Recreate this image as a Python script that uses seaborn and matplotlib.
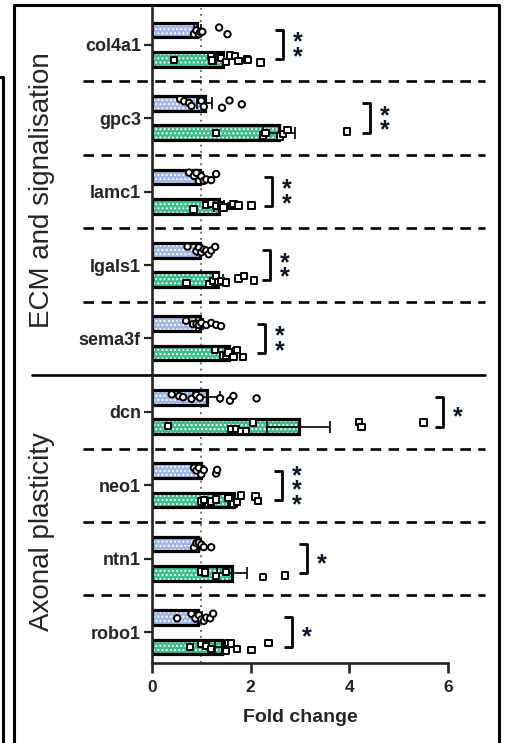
import numpy as np
import pandas as pd
import matplotlib.pyplot as plt
from matplotlib.lines import Line2D
import seaborn as sns

# --- data ---
genes = ["col4a1", "gpc3", "lamc1", "lgals1", "sema3f", "dcn", "neo1", "ntn1", "robo1"]
groups = ["ctrl", "treat"]

ctrl_mean = [0.92, 1.07, 0.97, 0.97, 0.97, 1.11, 1.00, 0.94, 0.94]
ctrl_sem = [0.07, 0.15, 0.06, 0.05, 0.07, 0.27, 0.06, 0.05, 0.07]
treat_mean = [1.43, 2.57, 1.35, 1.33, 1.56, 2.97, 1.67, 1.62, 1.41]
treat_sem = [0.14, 0.32, 0.10, 0.10, 0.08, 0.64, 0.12, 0.30, 0.13]

ctrl_points = [
    [0.85, 0.90, 0.95, 0.98, 1.02, 1.36, 1.53],
    [0.57, 0.65, 0.75, 0.80, 1.00, 1.05, 1.42, 1.57, 1.82],
    [0.75, 0.85, 0.90, 0.95, 1.00, 1.05, 1.10, 1.20, 1.30],
    [0.72, 0.90, 0.95, 1.00, 1.05, 1.10, 1.15, 1.20, 1.28],
    [0.69, 0.83, 0.90, 0.95, 1.00, 1.10, 1.20, 1.30, 1.40],
    [0.40, 0.55, 0.63, 0.80, 0.90, 0.97, 1.38, 1.58, 1.65, 2.12],
    [0.85, 0.90, 0.95, 1.00, 1.05, 1.30, 1.32],
    [0.85, 0.90, 0.95, 1.00, 1.05, 1.20],
    [0.51, 0.80, 0.88, 0.95, 1.00, 1.05, 1.10, 1.18, 1.24],
]
treat_points = [
    [0.45, 1.20, 1.22, 1.40, 1.50, 1.58, 1.68, 1.75, 1.92, 1.95, 2.20],
    [1.30, 2.25, 2.30, 2.60, 2.65, 2.75, 3.95],
    [0.84, 1.10, 1.20, 1.30, 1.40, 1.45, 1.60, 1.65, 1.75, 2.02],
    [0.70, 1.15, 1.25, 1.30, 1.35, 1.40, 1.50, 1.75, 1.87, 2.07],
    [1.28, 1.45, 1.50, 1.55, 1.65, 1.72, 1.85],
    [0.33, 1.60, 1.70, 1.80, 1.90, 2.05, 4.20, 4.25, 5.50],
    [1.00, 1.05, 1.20, 1.30, 1.55, 1.65, 1.72, 1.80, 2.10, 2.15],
    [1.00, 1.07, 1.30, 1.50, 2.25, 2.70],
    [0.77, 1.00, 1.10, 1.20, 1.50, 1.55, 1.60, 1.72, 2.02, 2.36],
]

bracket_x = [2.66, 4.42, 2.43, 2.39, 2.29, 5.90, 2.64, 3.14, 2.84]
stars = ["**", "**", "**", "**", "**", "*", "***", "*", "*"]

PALETTE = {"ctrl": "#a3b7e4", "treat": "#3fbd8e"}

# --- tables ---
means = pd.DataFrame({
    "gene": genes * 2,
    "group": ["ctrl"] * len(genes) + ["treat"] * len(genes),
    "fold": ctrl_mean + treat_mean,
    "sem": ctrl_sem + treat_sem,
})
rows = []
for g, pts in zip(genes, ctrl_points):
    rows += [("ctrl", g, v) for v in pts]
for g, pts in zip(genes, treat_points):
    rows += [("treat", g, v) for v in pts]
points = pd.DataFrame(rows, columns=["group", "gene", "fold"])

sns.set_style("ticks")
plt.rcParams['font.family'] = ['Liberation Sans', 'DejaVu Sans']
plt.rcParams['hatch.linewidth'] = 0.9

fig = plt.figure(figsize=(5.08, 7.43), dpi=100)
W, H = 508, 743
ax = fig.add_axes([152 / W, 1 - 663 / H, 296 / W, 655 / H])

ax.axvline(1, ls=(0, (1, 2.2)), color="0.45", lw=1.4, zorder=0)

# filled bars with white dot hatch
sns.barplot(data=means, y="gene", x="fold", hue="group", order=genes, hue_order=groups,
            palette=PALETTE, saturation=1, orient="h", width=0.8, gap=0.5,
            errorbar=None, legend=False, ax=ax)
n0 = len(ax.patches)
for p in ax.patches:
    p.set_hatch("....")
    p.set_edgecolor("white")
    p.set_linewidth(0)
    p.set_zorder(1)

# outlines
sns.barplot(data=means, y="gene", x="fold", hue="group", order=genes, hue_order=groups,
            palette=PALETTE, saturation=1, orient="h", width=0.8, gap=0.5,
            errorbar=None, legend=False, ax=ax)
sem_lookup = {(r.gene, r.group): r.sem for r in means.itertuples()}
for p in ax.patches[n0:]:
    p.set_facecolor("none")
    p.set_edgecolor("black")
    p.set_linewidth(2.3)
    p.set_zorder(2)
    yc = p.get_y() + p.get_height() / 2
    gi = int(round(yc))
    grp = "ctrl" if yc < gi else "treat"
    ax.errorbar(p.get_width(), yc, xerr=sem_lookup[(genes[gi], grp)], color="black",
                lw=1.2, capsize=4, capthick=1.2, zorder=4)

# individual points
np.random.seed(4)
for grp, mk in [("ctrl", "o"), ("treat", "s")]:
    sns.stripplot(data=points[points.group == grp], y="gene", x="fold", hue="group",
                  order=genes, hue_order=groups, dodge=True, jitter=0.12, orient="h",
                  palette={"ctrl": "white", "treat": "white"}, marker=mk, size=4.6,
                  edgecolor="black", linewidth=1.4, legend=False, ax=ax, zorder=5)

# significance brackets
for i, (bx, s) in enumerate(zip(bracket_x, stars)):
    ax.plot([bx - 0.16, bx, bx, bx - 0.16], [i - 0.2, i - 0.2, i + 0.2, i + 0.2],
            color="black", lw=2.0, clip_on=False, solid_capstyle="butt")
    ax.text(bx + 0.3, i + 0.07, "\n".join(s), ha="center", va="center",
            fontsize=18, fontweight="bold", linespacing=0.5, color="#101828")

# separators
ytr = ax.get_yaxis_transform()
for i in range(len(genes) - 1):
    if i == 4:
        ax.plot([-0.405, 1.125], [i + 0.5, i + 0.5], transform=ytr, color="black",
                lw=1.9, clip_on=False)
    else:
        ax.plot([-0.233, 1.125], [i + 0.5, i + 0.5], transform=ytr, color="black",
                lw=1.9, ls=(0, (4, 2.8)), clip_on=False)

ax.set_xlim(0, 6)
ax.set_ylim(8.42, -0.5)
ax.set_xticks([0, 2, 4, 6])
ax.set_xticklabels(["0", "2", "4", "6"], fontsize=12.5, fontweight="bold")
ax.set_yticks(range(len(genes)))
ax.set_yticklabels(genes, fontsize=13, fontweight="bold")
ax.tick_params(axis="x", length=7, width=1.9, pad=5)
ax.tick_params(axis="y", length=6, width=1.6, pad=2)
ax.set_ylabel("")
ax.set_xlabel("Fold change", fontsize=14, fontweight="bold", labelpad=10)
sns.despine(ax=ax)
for s in ["left", "bottom"]:
    ax.spines[s].set_linewidth(1.9)

# section labels
fig.text(42 / W, 1 - 190 / H, "ECM and signalisation", rotation=90,
         ha="center", va="center", fontsize=20)
fig.text(42 / W, 1 - 532 / H, "Axonal plasticity", rotation=90,
         ha="center", va="center", fontsize=20)

# panel frame
frame = [
    ([14 / W, 14 / W, 499 / W, 499 / W], [0, 1 - 5 / H, 1 - 5 / H, 0]),
    ([0, 3 / W, 3 / W], [1 - 77 / H, 1 - 77 / H, 0]),
]
for xs, ys in frame:
    fig.add_artist(Line2D(xs, ys, transform=fig.transFigure, color="black", lw=2.2))

fig.savefig("out.png", dpi=100)
